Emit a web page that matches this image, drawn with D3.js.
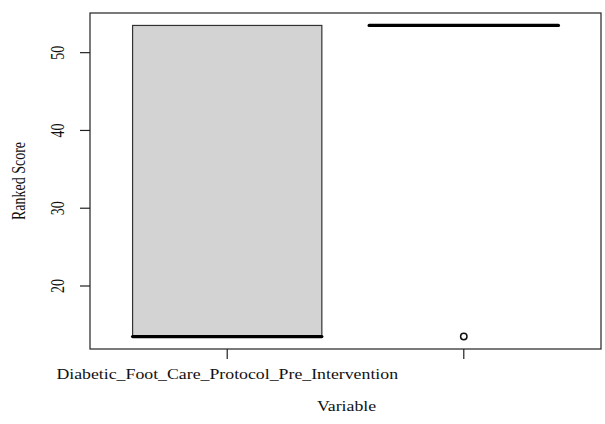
<!DOCTYPE html>
<html>
<head>
<meta charset="utf-8">
<script src="https://cdn.jsdelivr.net/npm/d3@7"></script>
<style>
  body { margin: 0; background: #fff; }
  text { font-family: "Liberation Serif", "DejaVu Serif", serif; fill: #111; }
</style>
</head>
<body>
<svg id="chart" width="605" height="424"></svg>
<script>
// box plot data (ranked scores)
let groups = ["Diabetic_Foot_Care_Protocol_Pre_Intervention", "Diabetic_Foot_Care_Protocol_Post_Intervention"];
let shownLabels = ["Diabetic_Foot_Care_Protocol_Pre_Intervention", ""];
let lowWhisk = [13.5, 53.5];
let q1 = [13.5, 53.5];
let median = [13.5, 53.5];
let q3 = [53.5, 53.5];
let highWhisk = [53.5, 53.5];
let outliers = [[], [13.5]];
let yTicks = [20, 30, 40, 50];

let svg = d3.select("#chart"),
    plotLeft = 90, plotRight = 601, plotTop = 13, plotBottom = 349,
    stretch = 1.27; // the original picture is a bit wider than tall

// R style: 4% padding around the data range
let yMin = 13.5, yMax = 53.5, pad = (yMax - yMin) * 0.04;
let yScale = d3.scaleLinear()
    .domain([yMin - pad, yMax + pad])
    .range([plotBottom, plotTop]);

let xScale = d3.scaleLinear()
    .domain([0.5 - 0.08, 2.5 + 0.08])
    .range([plotLeft, plotRight]);

let boxW = xScale(0.8) - xScale(0);

// frame
svg.append("rect")
    .attr("x", plotLeft).attr("y", plotTop)
    .attr("width", plotRight - plotLeft).attr("height", plotBottom - plotTop)
    .attr("fill", "none").attr("stroke", "#222").attr("stroke-width", 1.2);

// boxes
groups.forEach(function (g, i) {
    let cx = xScale(i + 1);
    let gBox = svg.append("g");
    // whiskers
    gBox.append("line")
        .attr("x1", cx).attr("x2", cx)
        .attr("y1", yScale(q3[i])).attr("y2", yScale(highWhisk[i]))
        .attr("stroke", "#222").attr("stroke-dasharray", "4,3");
    gBox.append("line")
        .attr("x1", cx).attr("x2", cx)
        .attr("y1", yScale(q1[i])).attr("y2", yScale(lowWhisk[i]))
        .attr("stroke", "#222").attr("stroke-dasharray", "4,3");
    // box
    if (q3[i] > q1[i]) {
        gBox.append("rect")
            .attr("x", cx - boxW / 2)
            .attr("y", yScale(q3[i]))
            .attr("width", boxW)
            .attr("height", yScale(q1[i]) - yScale(q3[i]))
            .attr("fill", "#d3d3d3")
            .attr("stroke", "#333")
            .attr("stroke-width", 1.2);
    }
    // median
    gBox.append("line")
        .attr("x1", cx - boxW / 2).attr("x2", cx + boxW / 2)
        .attr("y1", yScale(median[i])).attr("y2", yScale(median[i]))
        .attr("stroke", "#000").attr("stroke-width", 3.2)
        .attr("stroke-linecap", "round");
    // outliers
    gBox.selectAll("circle")
        .data(outliers[i])
        .enter()
        .append("circle")
        .attr("cx", cx)
        .attr("cy", function (d) { return yScale(d); })
        .attr("r", 3.2)
        .attr("fill", "none")
        .attr("stroke", "#111")
        .attr("stroke-width", 1.5);
});

// y axis
let yAxis = svg.append("g").attr("transform", `translate(${plotLeft},0)`);
yAxis.selectAll("line")
    .data(yTicks).enter().append("line")
    .attr("x1", -10).attr("x2", 0)
    .attr("y1", function (d) { return yScale(d); })
    .attr("y2", function (d) { return yScale(d); })
    .attr("stroke", "#222").attr("stroke-width", 1.2);
yAxis.selectAll("text")
    .data(yTicks).enter().append("text")
    .attr("transform", function (d) { return `translate(-26.5,${yScale(d)}) scale(${stretch},1) rotate(-90)`; })
    .attr("text-anchor", "middle")
    .attr("font-size", 14)
    .text(function (d) { return d; });

// x axis
let xAxis = svg.append("g").attr("transform", `translate(0,${plotBottom})`);
xAxis.selectAll("line")
    .data(groups).enter().append("line")
    .attr("x1", function (d, i) { return xScale(i + 1); })
    .attr("x2", function (d, i) { return xScale(i + 1); })
    .attr("y1", 0).attr("y2", 10)
    .attr("stroke", "#222").attr("stroke-width", 1.2);
xAxis.selectAll("text")
    .data(shownLabels).enter().append("text")
    .attr("transform", function (d, i) { return `translate(${xScale(i + 1)},30) scale(${stretch},1)`; })
    .attr("text-anchor", "middle")
    .attr("font-size", 14)
    .text(function (d) { return d; });

// axis titles
svg.append("text")
    .attr("transform", `translate(${(plotLeft + plotRight) / 2 + 1},410.5) scale(${stretch},1)`)
    .attr("text-anchor", "middle")
    .attr("font-size", 14)
    .text("Variable");
svg.append("text")
    .attr("transform", `translate(25,${(plotTop + plotBottom) / 2}) scale(${stretch},1) rotate(-90)`)
    .attr("text-anchor", "middle")
    .attr("font-size", 14)
    .text("Ranked Score");
</script>
</body>
</html>
